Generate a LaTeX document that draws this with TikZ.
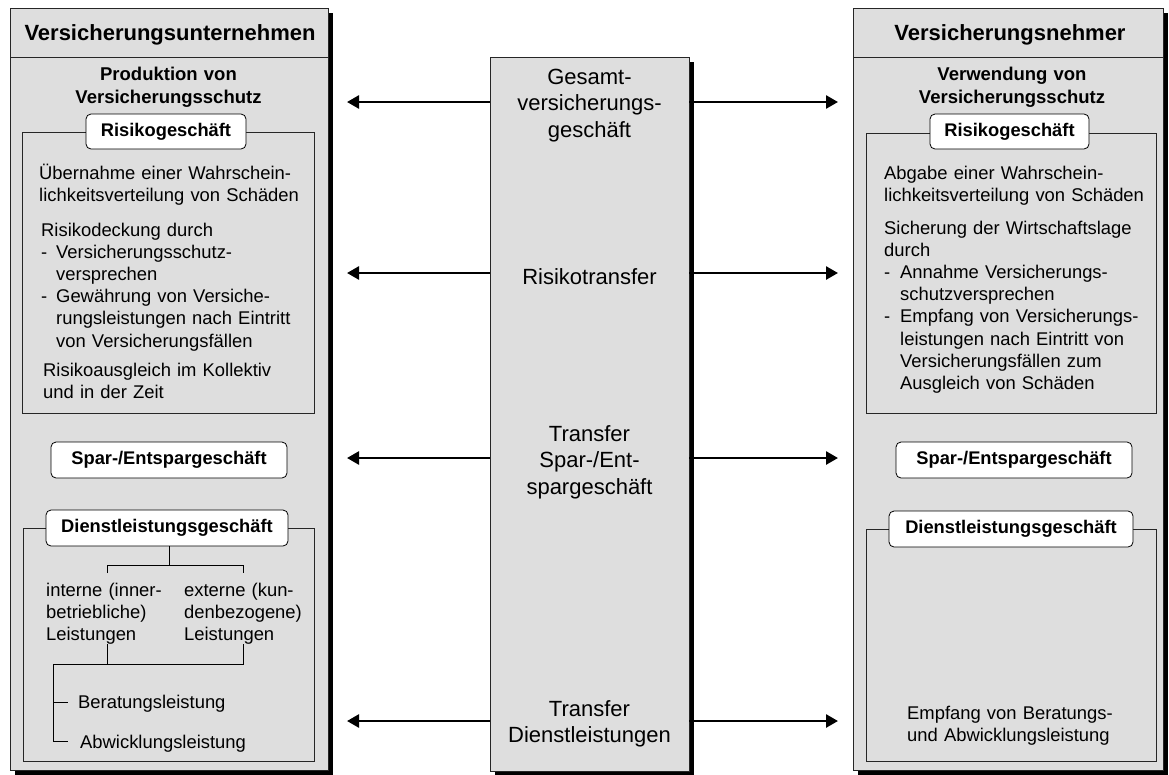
\documentclass[tikz,border=0pt]{standalone}
\usepackage{fontspec}
\setmainfont{Liberation Sans}
\usetikzlibrary{arrows.meta,shadows}
\definecolor{panelgray}{RGB}{222,222,222}
\begin{document}
\begin{tikzpicture}[x=1pt,y=-1pt,
  panel/.style={draw=black!85,line width=0.8pt,fill=panelgray,rectangle,inner sep=0pt,
    drop shadow={shadow xshift=5pt,shadow yshift=-5pt,opacity=1,fill=black}},
  frame/.style={draw=black!85,line width=0.8pt},
  tag/.style={draw=black,line width=0.8pt,fill=white,rounded corners=5pt,inner sep=0pt,
    font=\bfseries\fontsize{18.3}{22}\selectfont},
  title/.style={font=\bfseries\fontsize{22}{26}\selectfont,inner sep=0pt,anchor=base},
  head/.style={font=\bfseries\fontsize{18.5}{23}\selectfont,inner sep=0pt,anchor=base,
    align=center,text width=300pt},
  body/.style={font=\fontsize{18.4}{22.2}\selectfont,inner sep=0pt,anchor=base west,
    align=left,text width=#1},
  body/.default=280pt,
  midtext/.style={font=\fontsize{22}{26.5}\selectfont,inner sep=0pt,anchor=base,
    align=center,text width=196pt},
  link/.style={line width=2.6pt,-{Triangle[length=12pt,width=13pt]}},
  twig/.style={line width=0.9pt}]

\useasboundingbox (0,0) rectangle (1169,774);

% the three columns
\node[panel,minimum width=318pt,minimum height=762pt] (vu) at (169,389) {};
\node[panel,minimum width=310pt,minimum height=762pt] (vn) at (1008,389) {};
\node[panel,minimum width=199pt,minimum height=714pt] (mid) at (589.5,414) {};

% header rows
\draw[frame] (10,57) -- (328,57);
\draw[frame] (853,57) -- (1163,57);
\node[title] (vut) at (170,40) {Versicherungsunternehmen};
\node[title] (vnt) at (1010,40) {Versicherungsnehmer};
\node[head] (vuh) at (168.5,80) {Produktion von\\Versicherungsschutz};
\node[head] (vnh) at (1012,80) {Verwendung von\\Versicherungsschutz};

% framed groups
\draw[frame] (22,132) rectangle (314,413);
\draw[frame] (23,528) rectangle (314,761);
\draw[frame] (866,133) rectangle (1156,413);
\draw[frame] (866,529) rectangle (1156,761);

% group labels
\node[tag,minimum width=160pt,minimum height=35pt] (rgl) at (166,131.5) {Risikogeschäft};
\node[tag,minimum width=236pt,minimum height=36pt] (sgl) at (169,460) {Spar-/Entspargeschäft};
\node[tag,minimum width=242pt,minimum height=36pt] (dgl) at (167,528) {Dienstleistungsgeschäft};
\node[tag,minimum width=159pt,minimum height=35pt] (rgr) at (1009.5,131.5) {Risikogeschäft};
\node[tag,minimum width=236pt,minimum height=36pt] (sgr) at (1014,460) {Spar-/Entspargeschäft};
\node[tag,minimum width=244pt,minimum height=36pt] (dgr) at (1011,529) {Dienstleistungsgeschäft};

% insurer: risk business
\node[body] (l1) at (39,179) {Übernahme einer Wahrschein-\\lichkeitsverteilung von Schäden};
\node[body] (l2) at (41,236) {Risikodeckung durch\\
  \makebox[15pt][l]{-}Versicherungsschutz-\\
  \hspace*{15pt}versprechen\\
  \makebox[15pt][l]{-}Gewährung von Versiche-\\
  \hspace*{15pt}rungsleistungen nach Eintritt\\
  \hspace*{15pt}von Versicherungsfällen};
\node[body] (l3) at (43,376) {Risikoausgleich im Kollektiv\\und in der Zeit};

% policyholder: risk business
\node[body] (r1) at (884,179) {Abgabe einer Wahrschein-\\lichkeitsverteilung von Schäden};
\node[body] (r2) at (884,234) {Sicherung der Wirtschaftslage\\durch\\
  \makebox[16pt][l]{-}Annahme Versicherungs-\\
  \hspace*{16pt}schutzversprechen\\
  \makebox[16pt][l]{-}Empfang von Versicherungs-\\
  \hspace*{16pt}leistungen nach Eintritt von\\
  \hspace*{16pt}Versicherungsfällen zum\\
  \hspace*{16pt}Ausgleich von Schäden};

% insurer: service business tree
\node[body=130pt] (int) at (46,596) {interne (inner-\\betriebliche)\\Leistungen};
\node[body=130pt] (ext) at (184,596) {externe (kun-\\denbezogene)\\Leistungen};
\node[body] (ber) at (78,708) {Beratungsleistung};
\node[body] (abw) at (80,748) {Abwicklungsleistung};

\coordinate (ja) at (169,565);
\coordinate (jl) at (107,573);
\coordinate (jr) at (243,573);
\coordinate (kl) at (107,644);
\coordinate (kr) at (243,644);
\coordinate (ks) at (53,664);
\coordinate (kb) at (68,702);
\coordinate (ka) at (68,741);
\draw[twig] (dgl.south -| ja) -- (ja);
\draw[twig] (jl) |- (ja) -| (jr);
\draw[twig] (kl) -- (kl |- ks);
\draw[twig] (kr) |- (ks) |- (ka);
\draw[twig] (ks |- kb) -- (kb);

% policyholder: service business
\node[body] (emp) at (907,719) {Empfang von Beratungs-\\und Abwicklungsleistung};

% centre column
\node[midtext] (m1) at (589.5,84) {Gesamt-\\versicherungs-\\geschäft};
\node[midtext] (m2) at (589.5,284) {Risikotransfer};
\node[midtext] (m3) at (589.5,441) {Transfer\\Spar-/Ent-\\spargeschäft};
\node[midtext] (m4) at (589.5,716) {Transfer\\Dienstleistungen};

% transfer arrows
\coordinate (al1) at (347,102); \coordinate (ar1) at (838,102);
\coordinate (al2) at (347,273); \coordinate (ar2) at (838,273);
\coordinate (al3) at (347,458); \coordinate (ar3) at (838,458);
\coordinate (al4) at (347,721); \coordinate (ar4) at (838,721);
\foreach \i in {1,...,4}{
  \draw[link] (mid.west |- al\i) -- (al\i);
  \draw[link] (mid.east |- ar\i) -- (ar\i);
}
\end{tikzpicture}
\end{document}
